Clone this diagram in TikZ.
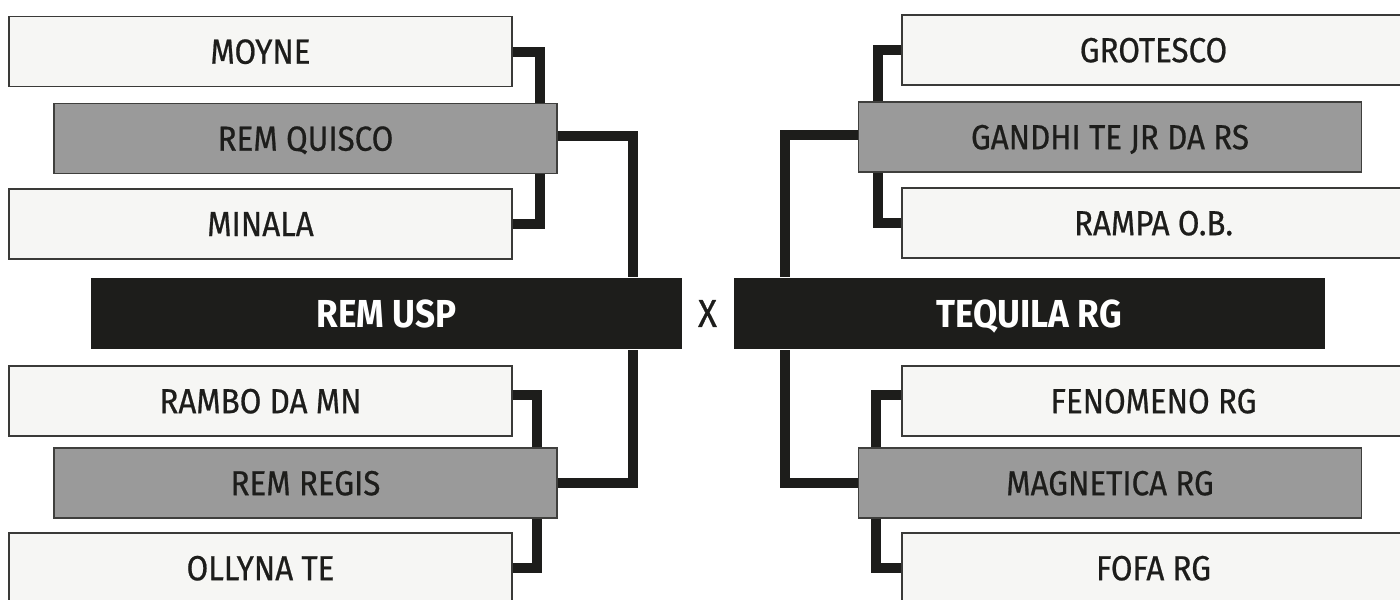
\documentclass[tikz,border=0pt]{standalone}
\usepackage{fontspec}
\setmainfont{Fira Sans}[FakeStretch=0.9]
\newfontfamily\teamfont{Fira Sans}[FakeStretch=0.9,FakeBold=0.6]
\usepackage{tikz}
\usetikzlibrary{positioning,calc}
\definecolor{brkdark}{HTML}{1D1D1B}
\definecolor{brklight}{HTML}{F6F6F4}
\definecolor{brkmid}{HTML}{9A9A9A}
\definecolor{brkline}{HTML}{3A3A38}

\begin{document}
\begin{tikzpicture}[
 x=0.1mm,y=-0.1mm,
 b/.style={draw=brkline,line width=0.15mm,minimum width=50.3mm,minimum height=7mm,inner sep=0pt,text depth=0pt,font=\teamfont\fontsize{9.9}{11}\selectfont,text=brkdark},
 l/.style={b,fill=brklight},
 m/.style={b,fill=brkmid,draw=brkdark!85},
 f/.style={fill=brkdark,minimum width=59.1mm,minimum height=7.1mm,inner sep=0pt,text depth=0pt,text=white,font=\fontsize{11.1}{13}\selectfont\bfseries},
 a/.style={line width=1mm,draw=brkdark}
]
\useasboundingbox (0,0) rectangle (1400,599);
% left half
\node[l] (moyne) at (260.5,51.5) {MOYNE};
\node[m] (quisco) at (305.5,138.5) {REM QUISCO};
\node[l] (minala) at (260.5,224) {MINALA};
\node[f] (usp) at (386.5,313.5) {REM USP};
\node[l] (rambo) at (260.5,401) {RAMBO DA MN};
\node[m] (regis) at (305.5,483) {REM REGIS};
\node[l] (ollyna) at (260.5,568) {OLLYNA TE};
\node[font=\teamfont\fontsize{11.1}{13}\selectfont,text=brkdark] (vs) at (707.5,313.5) {X};
% right half
\node[l] (grotesco) at (1153.5,50) {GROTESCO};
\node[m] (gandhi) at (1110,137) {GANDHI TE JR DA RS};
\node[l] (rampa) at (1153.5,223) {RAMPA O.B.};
\node[f] (tequila) at (1029,313.5) {TEQUILA RG};
\node[l] (fenomeno) at (1153.5,401) {FENOMENO RG};
\node[m] (magnetica) at (1110,483) {MAGNETICA RG};
\node[l] (fofa) at (1153.5,568) {FOFA RG};
% brackets
\draw[a] (moyne.east) -| ([xshift=-1.8mm]quisco.north east);
\draw[a] (minala.east) -| ([xshift=-1.8mm]quisco.south east);
\draw[a] ([yshift=0.3mm]quisco.east) -| ([xshift=-5mm]usp.north east);
\draw[a] (regis.east) -| ([xshift=-5mm]usp.south east);
\draw[a] ([yshift=0.65mm]rambo.east) -| ([xshift=-2.1mm]regis.north east);
\draw[a] (ollyna.east) -| ([xshift=-2.1mm]regis.south east);
\draw[a] (grotesco.west) -| ([xshift=2mm]gandhi.north west);
\draw[a] (rampa.west) -| ([xshift=2mm]gandhi.south west);
\draw[a] ([yshift=0.2mm]gandhi.west) -| ([xshift=5.25mm]tequila.north west);
\draw[a] (magnetica.west) -| ([xshift=5.25mm]tequila.south west);
\draw[a] ([yshift=0.65mm]fenomeno.west) -| ([xshift=1.85mm]magnetica.north west);
\draw[a] (fofa.west) -| ([xshift=1.85mm]magnetica.south west);
\end{tikzpicture}
\end{document}
